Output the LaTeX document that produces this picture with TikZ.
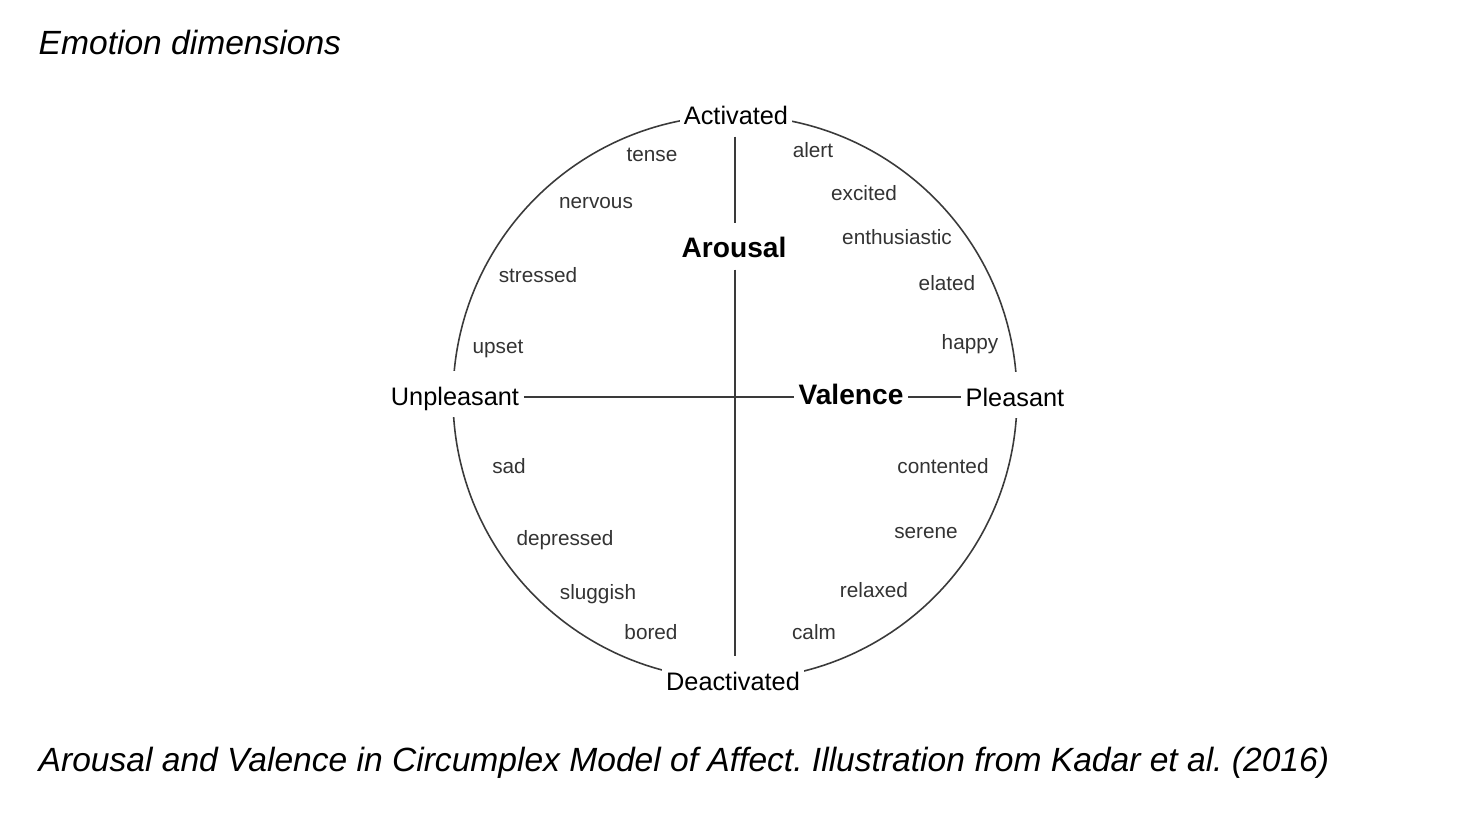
\documentclass[tikz,border=0pt]{standalone}
\usepackage{fontspec}
\setmainfont{Liberation Sans}
\usepackage{xcolor}
\definecolor{cLine}{HTML}{3A3A3A}
\definecolor{cWord}{HTML}{333333}
\usetikzlibrary{positioning,calc}
\tikzset{
  node-word/.style={text=cWord,inner sep=1pt,font=\fontsize{5.9}{7}\selectfont},
  node-pole/.style={fill=white,inner sep=1.2pt,text height=1.6ex,text depth=0.4ex,
    font=\fontsize{7.2}{8.5}\selectfont},
  node-axis/.style={fill=white,inner sep=1.2pt,text height=1.6ex,text depth=0.4ex,
    font=\bfseries\fontsize{8}{9.5}\selectfont},
  node-note/.style={anchor=west,inner sep=0pt,font=\itshape\fontsize{9.55}{11}\selectfont},
  rim/.style={draw=cLine,line width=0.45pt},
  axis/.style={draw=cLine,line width=0.45pt},
}
\frenchspacing

\begin{document}
\begin{tikzpicture}[x=0.01cm,y=-0.01cm]
  \useasboundingbox (0,0) rectangle (1465,820);

  % titles
  \node[node-note] (title) at (38,42) {Emotion dimensions};
  \node[node-note] (caption) at (38,763) {Arousal and Valence in Circumplex Model of Affect. Illustration from Kadar et al. (2016)};

  % circle and poles
  \draw[rim] (735,397.5) circle[radius=282];
  \node[node-pole] (ac) at (736,113) {Activated};
  \node[node-pole] (de) at (733,679) {Deactivated};
  \node[node-pole] (un) at (455,394) {Unpleasant};
  \node[node-pole] (pl) at (1015,395) {Pleasant};
  \node[node-axis] (ar) at (734,246) {Arousal};
  \node[node-axis] (va) at (851,393) {Valence};

  % axes
  \coordinate (o) at (735,397);
  \draw[axis] (un.east |- o) -- (va.west |- o);
  \draw[axis] (va.east |- o) -- (pl.west |- o);
  \draw[axis] (ac.south -| o) -- (ar.north -| o);
  \draw[axis] (ar.south -| o) -- (de.north -| o);

  % affect words
  \node[node-word] (w-tense)    at (652,155) {tense};
  \node[node-word] (w-nervous)  at (596,203) {nervous};
  \node[node-word] (w-stressed) at (538,275) {stressed};
  \node[node-word] (w-upset)    at (498,349) {upset};
  \node[node-word] (w-alert)    at (813,150) {alert};
  \node[node-word] (w-excited)  at (864,193) {excited};
  \node[node-word] (w-enthus)   at (897,237) {enthusiastic};
  \node[node-word] (w-elated)   at (947,283) {elated};
  \node[node-word] (w-happy)    at (970,344) {happy};
  \node[node-word] (w-sad)      at (509,466) {sad};
  \node[node-word] (w-depr)     at (565,540) {depressed};
  \node[node-word] (w-slug)     at (598,594) {sluggish};
  \node[node-word] (w-bored)    at (651,632) {bored};
  \node[node-word] (w-content)  at (943,466) {contented};
  \node[node-word] (w-serene)   at (926,533) {serene};
  \node[node-word] (w-relaxed)  at (874,590) {relaxed};
  \node[node-word] (w-calm)     at (814,632) {calm};
\end{tikzpicture}
\end{document}
